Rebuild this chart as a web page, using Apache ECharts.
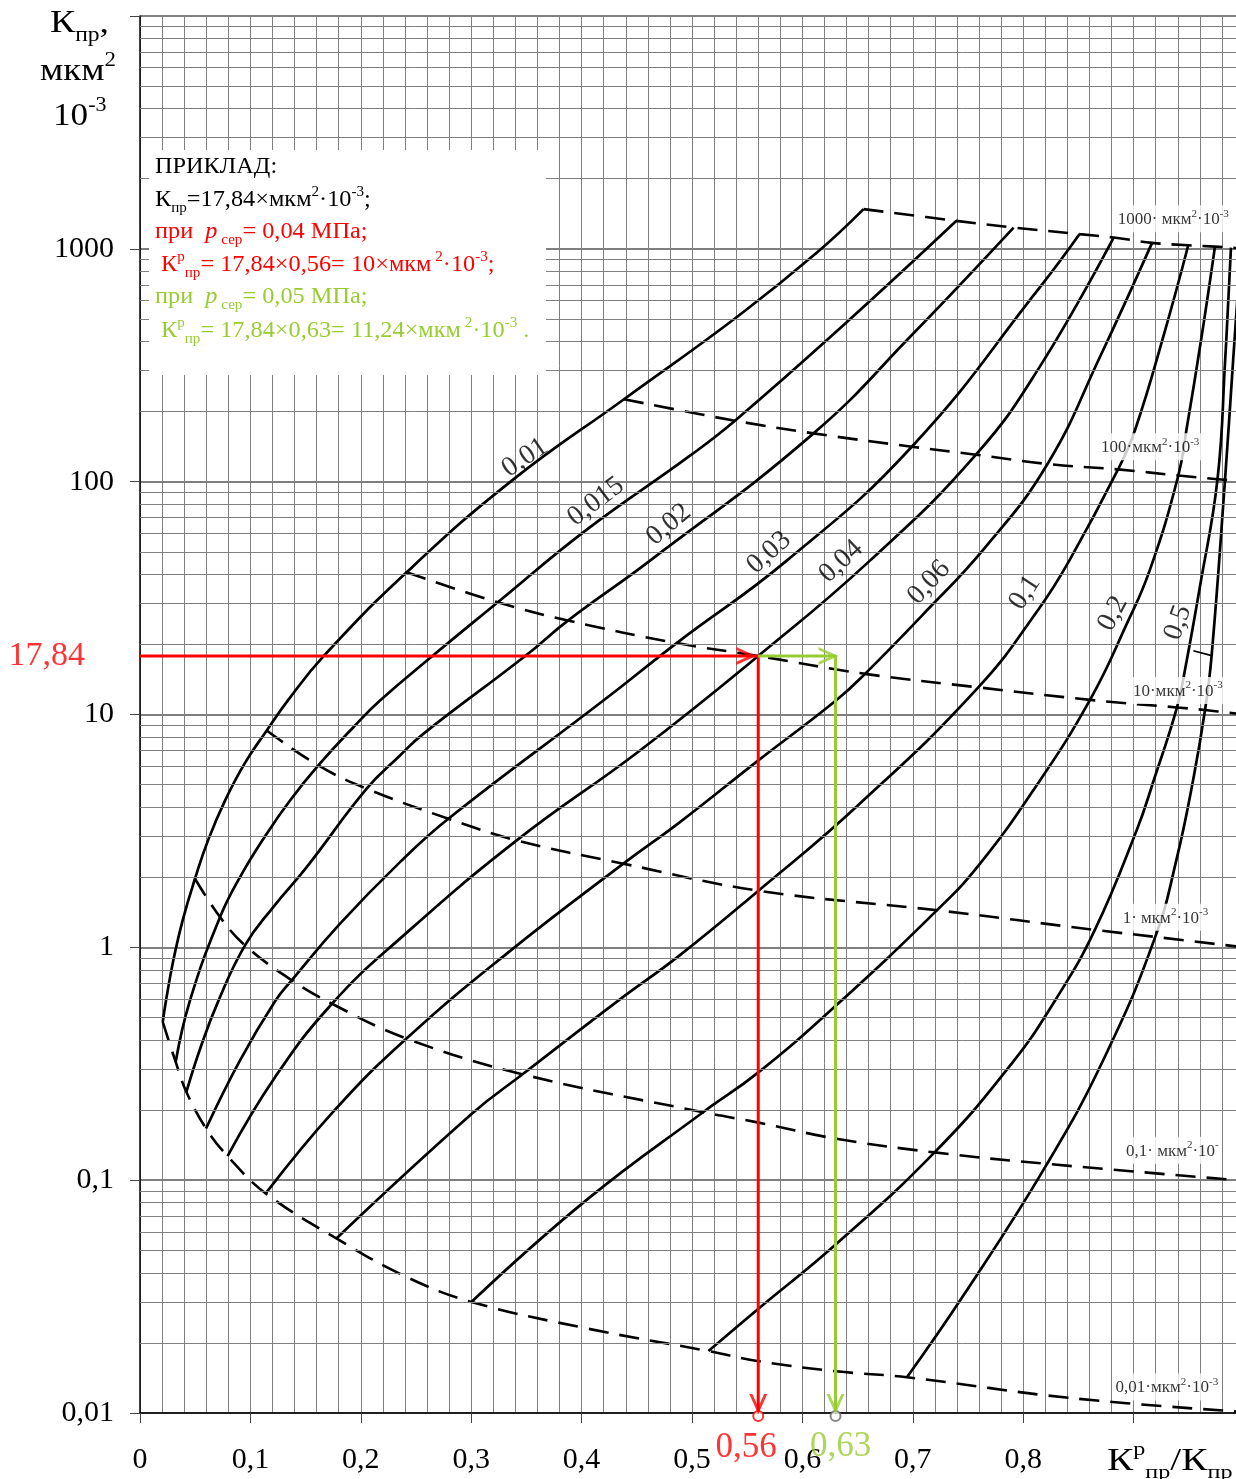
<!DOCTYPE html>
<html>
<head>
<meta charset="utf-8">
<script src="https://cdn.jsdelivr.net/npm/echarts@6/dist/echarts.min.js"></script>
<style>
html,body{margin:0;padding:0;background:#fff;}
#chart{width:1236px;height:1479px;}
</style>
</head>
<body>
<div id="chart"></div>
<script>
// ---------- DATA ----------
// Solid curves: K^p_пр/K_пр (x) vs K_пр (y, mkm^2*10^-3) for mean pressure p_сер, MPa
const curveP0010 = [[0.0206,0.478],[0.0236,0.592],[0.0302,0.88],[0.0387,1.31],[0.0498,1.97],[0.0616,2.88],[0.0770,4.27],[0.0951,6.20],[0.1148,8.54],[0.134,11.5],[0.1667,17.9],[0.2415,40.8],[0.3368,101],[0.4384,226],[0.5422,516],[0.6132,964],[0.6554,1481]];
const curveP0015 = [[0.0323,0.322],[0.0453,0.592],[0.0725,1.349],[0.0906,2.003],[0.1148,3.076],[0.1359,4.274],[0.1615,6.04],[0.1933,8.82],[0.2174,11.48],[0.2654,17.92],[0.3241,30.34],[0.4035,61.6],[0.4982,129.3],[0.5389,182.7],[0.6386,476.6],[0.7395,1319]];
const curveP0020 = [[0.0420,0.2393],[0.0550,0.3733],[0.0712,0.592],[0.0951,1.020],[0.1207,1.489],[0.1510,2.211],[0.2053,4.80],[0.2355,6.67],[0.2566,8.26],[0.3495,17.92],[0.3876,25.32],[0.4620,45.8],[0.6101,161.2],[0.7002,431.8],[0.7913,1234]];
const curveP0030 = [[0.0598,0.1667],[0.0906,0.3273],[0.1229,0.592],[0.1374,0.722],[0.1812,1.264],[0.2355,2.323],[0.2793,3.567],[0.4197,11.48],[0.4861,20.27],[0.5858,45.8],[0.6991,141.3],[0.8152,684.3],[0.8511,1157]];
const curveP0040 = [[0.0793,0.1268],[0.1223,0.2768],[0.1739,0.5723],[0.2355,1.090],[0.3412,2.879],[0.4529,7.007],[0.56,17.84],[0.6612,45.8],[0.7572,130.6],[0.8152,312.8],[0.8819,1118]];
const curveP0060 = [[0.1139,0.0877],[0.1763,0.1998],[0.2414,0.4057],[0.3322,0.9397],[0.4378,2.287],[0.4891,3.45],[0.5604,6.366],[0.6304,11.48],[0.6567,14.95],[0.7083,26.6],[0.7654,52.1],[0.8220,119.1],[0.8696,344],[0.9167,1061]];
const curveP0100 = [[0.1779,0.0562],[0.3008,0.1933],[0.3465,0.2850],[0.4335,0.592],[0.4891,0.9258],[0.5602,1.751],[0.6497,4.045],[0.7593,13.08],[0.8152,28.9],[0.8424,46.4],[0.8859,112.9],[0.9013,166.7],[0.9284,444.8],[0.9495,1036]];
const curveP0200 = [[0.3002,0.0300],[0.4043,0.0821],[0.5100,0.1958],[0.5604,0.2910],[0.6304,0.5622],[0.7236,1.470],[0.7609,2.287],[0.8103,4.813],[0.8605,11.56],[0.8938,24.5],[0.9149,42.0],[0.9405,106.3],[0.9481,169.5],[0.9620,431.8],[0.9737,1022]];
const curveP0500 = [[0.5149,0.01845],[0.5604,0.02812],[0.6304,0.0531],[0.7197,0.1316],[0.7879,0.3094],[0.8296,0.5989],[0.8649,1.189],[0.9034,3.242],[0.9179,5.157],[0.9393,10.72],[0.9466,15.6],[0.9601,35.43],[0.9760,102.5],[0.9828,324],[0.9882,1012]];
const curveP1000 = [[0.6947,0.01424],[0.7461,0.03209],[0.8216,0.1175],[0.8746,0.344],[0.9196,1.109],[0.9389,2.386],[0.9541,5.287],[0.9647,10.45],[0.9707,17.93],[0.9828,101.8],[0.9900,324],[0.9964,888]];
// short leader stroke between the 0,5 curve and the rightmost curve
const leaderMark = [[0.9541,18.8],[0.9707,17.9]];

// Dashed lines of constant K^p_пр (0.01 ... 1000 mkm^2*10^-3)
const isoK0_01 = [[0.0206,0.478],[0.0323,0.322],[0.0420,0.2393],[0.0598,0.1667],[0.0793,0.1268],[0.1139,0.0877],[0.1779,0.0562],[0.2409,0.0385],[0.3002,0.0300],[0.4043,0.0231],[0.5149,0.01845],[0.5604,0.01669],[0.6304,0.01511],[0.6947,0.01424],[0.8424,0.0116],[1.0,0.0101]];
const isoK0_1 = [[0.0498,1.97],[0.0725,1.349],[0.0951,1.020],[0.1374,0.722],[0.1739,0.5723],[0.2414,0.4057],[0.3465,0.2850],[0.5100,0.1958],[0.5604,0.1767],[0.6304,0.1507],[0.7197,0.1316],[0.8216,0.1175],[1.0,0.0995]];
const isoK1 = [[0.1148,8.54],[0.1615,6.04],[0.2053,4.80],[0.2793,3.567],[0.3412,2.879],[0.4378,2.287],[0.5602,1.751],[0.7236,1.44],[0.8649,1.188],[0.9196,1.109],[1.0,1.0]];
const isoK10 = [[0.2415,40.8],[0.3241,30.34],[0.3876,25.32],[0.4861,20.27],[0.56,17.84],[0.6567,14.95],[0.7593,13.08],[0.8605,11.56],[0.9393,10.72],[0.9647,10.45],[1.0,10.0]];
const isoK100 = [[0.4384,226],[0.5389,182.7],[0.6101,161.2],[0.6991,141.3],[0.7572,130.6],[0.8220,119.1],[0.8859,112.9],[0.9405,106.3],[0.9760,102.5],[0.9828,101.8],[1.0,100]];
const isoK1000 = [[0.6554,1481],[0.7395,1319],[0.7913,1234],[0.8511,1157],[0.8819,1118],[0.9167,1061],[0.9495,1036],[0.9737,1022],[0.9882,1012],[1.0,1000]];

// Curve labels: text, x, y (anchor on the curve)
const curveLabelText = ['0,01','0,015','0,02','0,03','0,04','0,06','0,1','0,2','0,5'];
const curveLabelX = [0.3487,0.413,0.479,0.5697,0.635,0.7147,0.8016,0.8813,0.9402];
const curveLabelY = [126.8,82.1,65.4,49.6,45.4,36.9,33.4,27.1,24.8];

// Iso-line labels: number part, x, y
const isoLabelNum = ['1000· мкм','100·мкм','10·мкм','1· мкм','0,1· мкм','0,01·мкм'];
const isoLabelPow = ['-3','-3','-3','-3','','-3'];
const isoLabelX = [0.883,0.8678,0.8967,0.8874,0.8904,0.881];
const isoLabelY = [1345,141.3,12.68,1.345,0.1345,0.01293];

// Worked example
const exampleK = 17.84;
const exampleRatioRed = 0.56;
const exampleRatioGreen = 0.63;
const yMin = 0.01, yMax = 10000;

// ---------- STYLE ----------
const SERIF = '"Liberation Serif","Times New Roman",serif';
const RED = '#ff0000';
const GREEN = '#99cc33';
const chevron = 'path://M0,0 L20,10 L0,20 L0,16.5 L13,10 L0,3.5 Z';

function labelRich(size, color) {
  const s = Math.round(size * 0.62);
  return {
    t: {fontSize: size, fontFamily: SERIF, color: color, lineHeight: Math.round(size * 1.35)},
    sub: {fontSize: s, fontFamily: SERIF, color: color, lineHeight: s, verticalAlign: 'bottom'},
    sup: {fontSize: s, fontFamily: SERIF, color: color, lineHeight: s, verticalAlign: 'top'}
  };
}
function gRich(size, color) {
  const s = Math.round(size * 0.62);
  return {
    t: {fontSize: size, fontFamily: SERIF, fill: color, lineHeight: Math.round(size * 1.35)},
    i: {fontSize: size, fontFamily: SERIF, fill: color, fontStyle: 'italic', lineHeight: Math.round(size * 1.35)},
    sub: {fontSize: s, fontFamily: SERIF, fill: color, lineHeight: s, verticalAlign: 'bottom'},
    sup: {fontSize: s, fontFamily: SERIF, fill: color, lineHeight: s, verticalAlign: 'top'}
  };
}
function gText(x, y, text, size, color, sx) {
  return {type: 'text', x: x, y: y, z: 60, silent: true, scaleX: sx || 1, scaleY: 1,
    style: {text: text, rich: gRich(size, color), fill: color, fontSize: size, fontFamily: SERIF, verticalAlign: 'middle', align: 'left'}};
}

// minor log grid values 2..9 per decade
const minorY = [];
for (let e = -2; e <= 3; e++) for (let m = 2; m <= 9; m++) minorY.push(+(m * Math.pow(10, e)).toPrecision(6));

const curves = [curveP0010, curveP0015, curveP0020, curveP0030, curveP0040, curveP0060, curveP0100, curveP0200, curveP0500, curveP1000];
const isoLines = [isoK0_01, isoK0_1, isoK1, isoK10, isoK100, isoK1000];

const series = [];
series.push({
  type: 'line', data: [[0.5, 1]], showSymbol: false, silent: true, z: 1,
  lineStyle: {opacity: 0},
  markLine: {silent: true, symbol: ['none', 'none'], label: {show: false}, animation: false,
    lineStyle: {color: '#808080', width: 1, type: 'solid'},
    emphasis: {disabled: true},
    data: minorY.map(v => ({yAxis: v}))}
});
curves.forEach(c => series.push({
  type: 'line', data: c, showSymbol: false, smooth: 0.45, silent: true, z: 3,
  lineStyle: {color: '#000', width: 2.7}
}));
series.push({type: 'line', data: leaderMark, showSymbol: false, silent: true, z: 3,
  lineStyle: {color: '#000', width: 1.6}});
isoLines.forEach(c => series.push({
  type: 'line', data: c, showSymbol: false, smooth: 0.4, silent: true, z: 3,
  lineStyle: {color: '#000', width: 2.6, type: [20, 11]}
}));
// example paths
series.push({type: 'line', data: [[0, exampleK], [exampleRatioRed, exampleK], [exampleRatioRed, yMin]],
  showSymbol: false, silent: true, z: 6, lineStyle: {color: RED, width: 3}});
series.push({type: 'line', data: [[exampleRatioRed, exampleK], [exampleRatioGreen, exampleK], [exampleRatioGreen, yMin]],
  showSymbol: false, silent: true, z: 6, lineStyle: {color: GREEN, width: 3}});
// small circles at the bottom
series.push({type: 'scatter', silent: true, z: 7, symbol: 'emptyCircle', symbolSize: 10,
  data: [
    {value: [exampleRatioRed, yMin], symbolOffset: [0, 3], itemStyle: {color: RED, borderColor: RED, borderWidth: 2}},
    {value: [exampleRatioGreen, yMin], symbolOffset: [0, 3], itemStyle: {color: '#666', borderColor: '#666', borderWidth: 1}}
  ]});
// arrow heads
series.push({type: 'scatter', silent: true, z: 8, symbol: chevron, symbolSize: [20, 18],
  data: [
    {value: [exampleRatioRed, exampleK], symbolOffset: [-12, 0], itemStyle: {color: RED}},
    {value: [exampleRatioRed, yMin], symbolRotate: -90, symbolOffset: [0, -9], itemStyle: {color: RED}},
    {value: [exampleRatioGreen, exampleK], symbolOffset: [-7, 0], itemStyle: {color: GREEN}},
    {value: [exampleRatioGreen, yMin], symbolRotate: -90, symbolOffset: [0, -9], itemStyle: {color: GREEN}}
  ]});
// curve labels
const curveLabelRot = [34, 37, 40, 42, 43, 47, 57, 62, 70];
series.push({type: 'scatter', silent: true, z: 9, symbolSize: 0,
  label: {show: true, position: 'inside', fontSize: 28, fontFamily: SERIF, color: '#000'},
  data: curveLabelText.map((t, i) => ({value: [curveLabelX[i], curveLabelY[i]], label: {formatter: t, rotate: curveLabelRot[i]}}))
});
// iso-line labels
series.push({type: 'scatter', silent: true, z: 10, symbolSize: 0,
  label: {show: true, position: 'right', distance: 0, backgroundColor: '#fff', padding: [3, 3, 1, 3],
    rich: labelRich(17, '#000')},
  data: isoLabelNum.map((t, i) => ({value: [isoLabelX[i], isoLabelY[i]],
    label: {formatter: '{t|' + t + '}{sup|2}{t|·10}' + (isoLabelPow[i] ? '{sup|' + isoLabelPow[i] + '}' : '{sup|-}')}}))
});
// example value labels
series.push({type: 'scatter', silent: true, z: 10, symbolSize: 0,
  data: [
    {value: [0, exampleK], label: {show: true, formatter: '17,84', position: 'left', distance: 55, color: RED, fontSize: 34, fontFamily: SERIF}},
    {value: [exampleRatioRed, yMin], label: {show: true, formatter: '0,56', position: 'bottom', distance: 17, offset: [-12, 0], color: RED, fontSize: 35, fontFamily: SERIF}},
    {value: [exampleRatioGreen, yMin], label: {show: true, formatter: '0,63', position: 'bottom', distance: 16, offset: [5, 0], color: GREEN, fontSize: 35, fontFamily: SERIF}}
  ]});

const yNames = {'-2': '0,01', '-1': '0,1', '0': '1', '1': '10', '2': '100', '3': '1000'};

const option = {
  animation: false,
  backgroundColor: '#fff',
  grid: {left: 140, top: 16, width: 1104, height: 1397, containLabel: false, outerBoundsMode: 'none'},
  xAxis: {
    type: 'value', min: 0, max: 1, interval: 0.1,
    axisLine: {show: true, onZero: false, lineStyle: {color: '#000', width: 1.5}},
    axisTick: {show: true, length: 10, lineStyle: {color: '#444', width: 1}},
    axisLabel: {fontSize: 30, fontFamily: SERIF, color: '#000', margin: 32,
      formatter: v => (v > 0.85 ? '' : (v === 0 ? '0' : v.toFixed(1).replace('.', ',')))},
    splitLine: {show: true, lineStyle: {color: '#808080', width: 1}},
    minorTick: {show: false, splitNumber: 5},
    minorSplitLine: {show: true, lineStyle: {color: '#808080', width: 1}}
  },
  yAxis: {
    type: 'log', logBase: 10, min: yMin, max: yMax,
    axisLine: {show: true, onZero: false, lineStyle: {color: '#000', width: 1.5}},
    axisTick: {show: true, length: 10, lineStyle: {color: '#444', width: 1}},
    axisLabel: {fontSize: 30, fontFamily: SERIF, color: '#000', margin: 26,
      formatter: v => { const k = Math.round(Math.log10(v)); return yNames[String(k)] || ''; }},
    splitLine: {show: true, lineStyle: {color: '#555', width: 1.5}}
  },
  graphic: [
    {type: 'rect', z: 50, silent: true, shape: {x: 149, y: 150, width: 397, height: 225}, style: {fill: '#fff'}},
    gText(155, 167, '{t|ПРИКЛАД:}', 22.5, '#000', 1.08),
    gText(155, 200, '{t|К}{sub|пр}{t|=17,84×мкм}{sup|2}{t|·10}{sup|-3}{t|;}', 22.5, '#000', 1.08),
    gText(155, 232, '{t|при  }{i|p}{sub| сер}{t|= 0,04 МПа;}', 22.5, RED, 1.08),
    gText(161, 265, '{t|К}{sup|р}{sub|пр}{t|= 17,84×0,56= 10×мкм}{sup| 2}{t|·10}{sup|-3}{t|;}', 22.5, RED, 1.08),
    gText(155, 297, '{t|при  }{i|p}{sub| сер}{t|= 0,05 МПа;}', 22.5, GREEN, 1.08),
    gText(161, 331, '{t|К}{sup|р}{sub|пр}{t|= 17,84×0,63= 11,24×мкм}{sup| 2}{t|·10}{sup|-3}{t| .}', 22.5, GREEN, 1.08),
    gText(50, 24, '{t|К}{sub|пр}{t|,}', 32, '#000', 1.18),
    gText(40, 72, '{t|мкм}{sup|2}', 32, '#000', 1.15),
    gText(53, 117, '{t|10}{sup|-3}', 32, '#000', 1.1),
    gText(1107, 1462, '{t|К}{sup|р}{sub|пр}{t|/К}{sub|пр}', 31, '#000', 1.27)
  ],
  series: series
};

const chart = echarts.init(document.getElementById('chart'), null, {renderer: 'canvas'});
chart.setOption(option);
</script>
</body>
</html>
